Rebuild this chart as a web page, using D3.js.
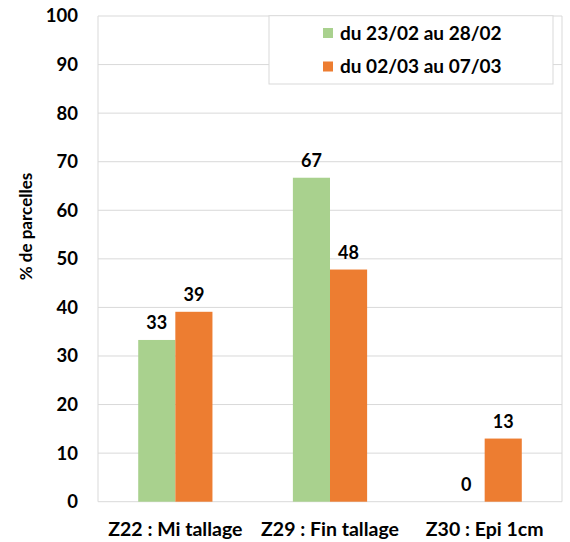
<!DOCTYPE html>
<html><head><meta charset="utf-8">
<script src="https://cdn.jsdelivr.net/npm/d3@7"></script>
<style>body{margin:0;background:#fff}text{font-family:Lato,"Open Sans",sans-serif;font-weight:bold;fill:#000}</style>
</head><body><svg id="c" width="570" height="542"></svg>
<script>
const categories = ["Z22 : Mi tallage", "Z29 : Fin tallage", "Z30 : Epi 1cm"];
const seriesNames = ["du 23/02 au 28/02", "du 02/03 au 07/03"];
const series1 = [33.3, 66.7, 0];
const series2 = [39.1, 47.8, 13.0];
const labels1 = ["33", "67", "0"];
const labels2 = ["39", "48", "13"];
const yTicks = [0,10,20,30,40,50,60,70,80,90,100];
const colors = ["#a9d18e", "#ed7d31"];

const svg = d3.select("#c");
const L = 98, R = 562, T = 16, B = 501.7;
const y = d3.scaleLinear().domain([0,100]).range([B,T]);
const x = d3.scaleBand().domain(categories).range([L,R]).padding(0);
const bw = x.bandwidth()*0.24;

svg.append("g").selectAll("line").data(yTicks).join("line")
  .attr("x1",L).attr("x2",R).attr("y1",d=>y(d)).attr("y2",d=>y(d))
  .attr("stroke","#d9d9d9").attr("stroke-width",1);
svg.append("line").attr("x1",L).attr("x2",L).attr("y1",T).attr("y2",B).attr("stroke","#d9d9d9");
svg.append("line").attr("x1",R).attr("x2",R).attr("y1",T).attr("y2",B).attr("stroke","#d9d9d9");

const font = "Lato,'Open Sans',sans-serif";
const yAxis = d3.axisLeft(y).tickValues(yTicks).tickSize(0).tickPadding(20);
const ga = svg.append("g").attr("transform",`translate(${L},0)`).call(yAxis);
ga.select(".domain").remove();
ga.selectAll("text").style("font-size","18.5px").style("font-family",font).style("font-weight","bold").attr("fill","#000");

const xAxis = d3.axisBottom(x).tickSize(0).tickPadding(20);
const gx = svg.append("g").attr("transform",`translate(0,${B})`).call(xAxis);
gx.select(".domain").remove();
gx.selectAll("text").style("font-size","19.5px").style("font-family",font).style("font-weight","bold").attr("fill","#000");

const allSeries = [series1, series2];
const allLabels = [labels1, labels2];
allSeries.forEach((s,si)=>{
  const g = svg.append("g");
  g.selectAll("rect").data(categories).join("rect")
    .attr("x",c=>x(c)+x.bandwidth()/2 - bw + si*bw)
    .attr("width",bw)
    .attr("y",(c,i)=>y(s[i]))
    .attr("height",(c,i)=>B - y(s[i]))
    .attr("fill",colors[si]);
  g.selectAll("text").data(categories).join("text")
    .attr("x",c=>x(c)+x.bandwidth()/2 - bw/2 + si*bw)
    .attr("y",(c,i)=>y(s[i]) - 11)
    .attr("text-anchor","middle").style("font-size","18px")
    .text((c,i)=>allLabels[si][i]);
});

svg.append("text").attr("transform","translate(32,226.5) rotate(-90)")
  .attr("text-anchor","middle").style("font-size","17px").text("% de parcelles");

const lg = svg.append("g");
lg.append("rect").attr("x",269).attr("y",15.7).attr("width",284).attr("height",68.3)
  .attr("fill","#fff").attr("stroke","#d9d9d9");
seriesNames.forEach((n,i)=>{
  lg.append("rect").attr("x",323).attr("y",28+i*33.5).attr("width",10).attr("height",10).attr("fill",colors[i]);
  lg.append("text").attr("x",340).attr("y",39.5+i*33.5).style("font-size","19px").text(n);
});
</script></body></html>
